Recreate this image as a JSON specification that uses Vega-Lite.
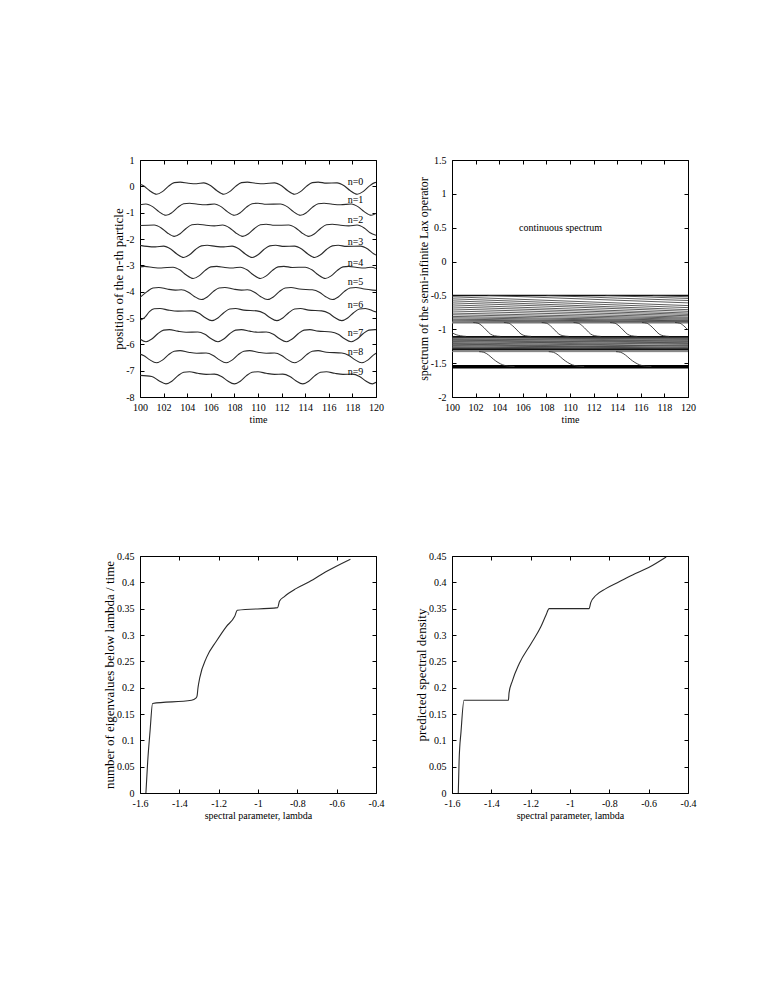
{
"$schema":"https://vega.github.io/schema/vega-lite/v6.json",
"background":"white",
"padding":{"left":103,"top":154,"right":10,"bottom":10},
"columns":2,
"spacing":{"row":159,"column":76},
"bounds":"flush",
"config":{
 "font":"Liberation Serif",
 "view":{"stroke":"#000","strokeWidth":1},
 "axis":{"domain":false,"grid":false,"ticks":true,"tickColor":"#000","tickSize":-4,"tickWidth":1,"labelFont":"Liberation Serif","labelFontSize":10,"labelColor":"#000","labelPadding":9,"labelFlush":false,"labelOverlap":false,"titleFont":"Liberation Serif","titleFontWeight":"normal","titleColor":"#000","titleFontSize":10,"titlePadding":2},
 "axisY":{"titleFontSize":13,"labelPadding":10,"titlePadding":0},
 "text":{"font":"Liberation Serif","fontSize":10,"color":"#000"}
},
"datasets":{
"pos":[
{"n":0,"t":100,"y":0.08},{"n":0,"t":100.3,"y":0.02},{"n":0,"t":100.8,"y":-0.16},{"n":0,"t":101.4,"y":-0.30},{"n":0,"t":101.9,"y":-0.20},{"n":0,"t":102.4,"y":0.00},{"n":0,"t":102.9,"y":0.14},{"n":0,"t":103.4,"y":0.16},{"n":0,"t":104.1,"y":0.12},{"n":0,"t":104.8,"y":0.10},{"n":0,"t":105.4,"y":0.13},{"n":0,"t":106.0,"y":0.02},{"n":0,"t":106.5,"y":-0.16},{"n":0,"t":107.1,"y":-0.30},{"n":0,"t":107.6,"y":-0.20},{"n":0,"t":108.1,"y":0.00},{"n":0,"t":108.6,"y":0.14},{"n":0,"t":109.1,"y":0.16},{"n":0,"t":109.8,"y":0.12},{"n":0,"t":110.5,"y":0.10},{"n":0,"t":111.4,"y":0.13},{"n":0,"t":112.0,"y":0.02},{"n":0,"t":112.5,"y":-0.16},{"n":0,"t":113.1,"y":-0.30},{"n":0,"t":113.6,"y":-0.20},{"n":0,"t":114.1,"y":0.00},{"n":0,"t":114.6,"y":0.14},{"n":0,"t":115.1,"y":0.16},{"n":0,"t":115.8,"y":0.12},{"n":0,"t":116.7,"y":0.13},{"n":0,"t":117.3,"y":0.02},{"n":0,"t":117.8,"y":-0.16},{"n":0,"t":118.4,"y":-0.30},{"n":0,"t":118.9,"y":-0.20},{"n":0,"t":119.4,"y":0.00},{"n":0,"t":119.9,"y":0.14},{"n":0,"t":120,"y":0.15},
{"n":1,"t":100,"y":-0.70},{"n":1,"t":100.5,"y":-0.67},{"n":1,"t":101.1,"y":-0.78},{"n":1,"t":101.6,"y":-0.96},{"n":1,"t":102.2,"y":-1.10},{"n":1,"t":102.7,"y":-1.00},{"n":1,"t":103.2,"y":-0.80},{"n":1,"t":103.7,"y":-0.66},{"n":1,"t":104.2,"y":-0.64},{"n":1,"t":104.9,"y":-0.68},{"n":1,"t":105.6,"y":-0.70},{"n":1,"t":106.3,"y":-0.67},{"n":1,"t":106.9,"y":-0.78},{"n":1,"t":107.4,"y":-0.96},{"n":1,"t":108.0,"y":-1.10},{"n":1,"t":108.5,"y":-1.00},{"n":1,"t":109.0,"y":-0.80},{"n":1,"t":109.5,"y":-0.66},{"n":1,"t":110.0,"y":-0.64},{"n":1,"t":110.7,"y":-0.68},{"n":1,"t":111.9,"y":-0.67},{"n":1,"t":112.5,"y":-0.78},{"n":1,"t":113.0,"y":-0.96},{"n":1,"t":113.6,"y":-1.10},{"n":1,"t":114.1,"y":-1.00},{"n":1,"t":114.6,"y":-0.80},{"n":1,"t":115.1,"y":-0.66},{"n":1,"t":115.6,"y":-0.64},{"n":1,"t":116.3,"y":-0.68},{"n":1,"t":117.0,"y":-0.70},{"n":1,"t":117.9,"y":-0.67},{"n":1,"t":118.5,"y":-0.78},{"n":1,"t":119.0,"y":-0.96},{"n":1,"t":119.6,"y":-1.10},{"n":1,"t":120,"y":-1.03},
{"n":2,"t":100,"y":-1.49},{"n":2,"t":101.2,"y":-1.47},{"n":2,"t":101.8,"y":-1.58},{"n":2,"t":102.3,"y":-1.76},{"n":2,"t":102.9,"y":-1.90},{"n":2,"t":103.4,"y":-1.80},{"n":2,"t":103.9,"y":-1.60},{"n":2,"t":104.4,"y":-1.46},{"n":2,"t":104.9,"y":-1.44},{"n":2,"t":105.6,"y":-1.48},{"n":2,"t":106.3,"y":-1.50},{"n":2,"t":107.0,"y":-1.47},{"n":2,"t":107.6,"y":-1.58},{"n":2,"t":108.1,"y":-1.76},{"n":2,"t":108.7,"y":-1.90},{"n":2,"t":109.2,"y":-1.80},{"n":2,"t":109.7,"y":-1.60},{"n":2,"t":110.2,"y":-1.46},{"n":2,"t":110.7,"y":-1.44},{"n":2,"t":111.4,"y":-1.48},{"n":2,"t":112.6,"y":-1.47},{"n":2,"t":113.2,"y":-1.58},{"n":2,"t":113.7,"y":-1.76},{"n":2,"t":114.3,"y":-1.90},{"n":2,"t":114.8,"y":-1.80},{"n":2,"t":115.3,"y":-1.60},{"n":2,"t":115.8,"y":-1.46},{"n":2,"t":116.3,"y":-1.44},{"n":2,"t":117.0,"y":-1.48},{"n":2,"t":117.7,"y":-1.50},{"n":2,"t":118.4,"y":-1.47},{"n":2,"t":119.0,"y":-1.58},{"n":2,"t":119.5,"y":-1.76},{"n":2,"t":120,"y":-1.86},
{"n":3,"t":100,"y":-2.24},{"n":3,"t":100.6,"y":-2.28},{"n":3,"t":101.3,"y":-2.30},{"n":3,"t":102.0,"y":-2.27},{"n":3,"t":102.6,"y":-2.38},{"n":3,"t":103.1,"y":-2.56},{"n":3,"t":103.7,"y":-2.70},{"n":3,"t":104.2,"y":-2.60},{"n":3,"t":104.7,"y":-2.40},{"n":3,"t":105.2,"y":-2.26},{"n":3,"t":105.7,"y":-2.24},{"n":3,"t":106.4,"y":-2.28},{"n":3,"t":107.1,"y":-2.30},{"n":3,"t":107.8,"y":-2.27},{"n":3,"t":108.4,"y":-2.38},{"n":3,"t":108.9,"y":-2.56},{"n":3,"t":109.5,"y":-2.70},{"n":3,"t":110.0,"y":-2.60},{"n":3,"t":110.5,"y":-2.40},{"n":3,"t":111.0,"y":-2.26},{"n":3,"t":111.5,"y":-2.24},{"n":3,"t":112.2,"y":-2.28},{"n":3,"t":113.1,"y":-2.27},{"n":3,"t":113.7,"y":-2.38},{"n":3,"t":114.2,"y":-2.56},{"n":3,"t":114.8,"y":-2.70},{"n":3,"t":115.3,"y":-2.60},{"n":3,"t":115.8,"y":-2.40},{"n":3,"t":116.3,"y":-2.26},{"n":3,"t":116.8,"y":-2.24},{"n":3,"t":117.5,"y":-2.28},{"n":3,"t":118.7,"y":-2.27},{"n":3,"t":119.3,"y":-2.38},{"n":3,"t":119.8,"y":-2.56},{"n":3,"t":120,"y":-2.61},
{"n":4,"t":100,"y":-3.06},{"n":4,"t":100.4,"y":-3.04},{"n":4,"t":101.1,"y":-3.08},{"n":4,"t":101.8,"y":-3.10},{"n":4,"t":102.8,"y":-3.07},{"n":4,"t":103.4,"y":-3.18},{"n":4,"t":103.9,"y":-3.36},{"n":4,"t":104.5,"y":-3.50},{"n":4,"t":105.0,"y":-3.40},{"n":4,"t":105.5,"y":-3.20},{"n":4,"t":106.0,"y":-3.06},{"n":4,"t":106.5,"y":-3.04},{"n":4,"t":107.2,"y":-3.08},{"n":4,"t":107.9,"y":-3.10},{"n":4,"t":108.5,"y":-3.07},{"n":4,"t":109.1,"y":-3.18},{"n":4,"t":109.6,"y":-3.36},{"n":4,"t":110.2,"y":-3.50},{"n":4,"t":110.7,"y":-3.40},{"n":4,"t":111.2,"y":-3.20},{"n":4,"t":111.7,"y":-3.06},{"n":4,"t":112.2,"y":-3.04},{"n":4,"t":112.9,"y":-3.08},{"n":4,"t":114.0,"y":-3.07},{"n":4,"t":114.6,"y":-3.18},{"n":4,"t":115.1,"y":-3.36},{"n":4,"t":115.7,"y":-3.50},{"n":4,"t":116.2,"y":-3.40},{"n":4,"t":116.7,"y":-3.20},{"n":4,"t":117.2,"y":-3.06},{"n":4,"t":117.7,"y":-3.04},{"n":4,"t":118.4,"y":-3.08},{"n":4,"t":119.1,"y":-3.10},{"n":4,"t":119.6,"y":-3.07},{"n":4,"t":120,"y":-3.12},
{"n":5,"t":100,"y":-4.22},{"n":5,"t":100.6,"y":-4.00},{"n":5,"t":101.1,"y":-3.86},{"n":5,"t":101.6,"y":-3.84},{"n":5,"t":102.3,"y":-3.90},{"n":5,"t":103.0,"y":-3.94},{"n":5,"t":103.5,"y":-3.93},{"n":5,"t":104.1,"y":-4.02},{"n":5,"t":104.6,"y":-4.18},{"n":5,"t":105.2,"y":-4.30},{"n":5,"t":105.7,"y":-4.20},{"n":5,"t":106.2,"y":-4.00},{"n":5,"t":106.7,"y":-3.86},{"n":5,"t":107.2,"y":-3.84},{"n":5,"t":107.9,"y":-3.90},{"n":5,"t":108.6,"y":-3.94},{"n":5,"t":109.1,"y":-3.93},{"n":5,"t":109.7,"y":-4.02},{"n":5,"t":110.2,"y":-4.18},{"n":5,"t":110.8,"y":-4.30},{"n":5,"t":111.3,"y":-4.20},{"n":5,"t":111.8,"y":-4.00},{"n":5,"t":112.3,"y":-3.86},{"n":5,"t":112.8,"y":-3.84},{"n":5,"t":113.5,"y":-3.90},{"n":5,"t":114.6,"y":-3.93},{"n":5,"t":115.2,"y":-4.02},{"n":5,"t":115.7,"y":-4.18},{"n":5,"t":116.3,"y":-4.30},{"n":5,"t":116.8,"y":-4.20},{"n":5,"t":117.3,"y":-4.00},{"n":5,"t":117.8,"y":-3.86},{"n":5,"t":118.3,"y":-3.84},{"n":5,"t":119.0,"y":-3.90},{"n":5,"t":119.7,"y":-3.94},{"n":5,"t":120,"y":-3.95},
{"n":6,"t":100,"y":-5.10},{"n":6,"t":100.4,"y":-4.98},{"n":6,"t":100.8,"y":-4.76},{"n":6,"t":101.2,"y":-4.65},{"n":6,"t":101.7,"y":-4.64},{"n":6,"t":102.4,"y":-4.70},{"n":6,"t":103.2,"y":-4.74},{"n":6,"t":104.4,"y":-4.73},{"n":6,"t":105.0,"y":-4.82},{"n":6,"t":105.5,"y":-4.98},{"n":6,"t":106.1,"y":-5.10},{"n":6,"t":106.6,"y":-5.00},{"n":6,"t":107.1,"y":-4.80},{"n":6,"t":107.6,"y":-4.66},{"n":6,"t":108.1,"y":-4.64},{"n":6,"t":108.8,"y":-4.70},{"n":6,"t":109.9,"y":-4.73},{"n":6,"t":110.5,"y":-4.82},{"n":6,"t":111.0,"y":-4.98},{"n":6,"t":111.6,"y":-5.10},{"n":6,"t":112.1,"y":-5.00},{"n":6,"t":112.6,"y":-4.80},{"n":6,"t":113.1,"y":-4.66},{"n":6,"t":113.6,"y":-4.64},{"n":6,"t":114.3,"y":-4.70},{"n":6,"t":115.4,"y":-4.73},{"n":6,"t":116.0,"y":-4.82},{"n":6,"t":116.5,"y":-4.98},{"n":6,"t":117.1,"y":-5.10},{"n":6,"t":117.6,"y":-5.00},{"n":6,"t":118.1,"y":-4.80},{"n":6,"t":118.6,"y":-4.66},{"n":6,"t":119.1,"y":-4.64},{"n":6,"t":119.8,"y":-4.74},{"n":6,"t":120,"y":-4.77},
{"n":7,"t":100,"y":-5.80},{"n":7,"t":100.5,"y":-5.90},{"n":7,"t":101.0,"y":-5.80},{"n":7,"t":101.5,"y":-5.60},{"n":7,"t":102.0,"y":-5.46},{"n":7,"t":102.5,"y":-5.44},{"n":7,"t":103.2,"y":-5.50},{"n":7,"t":103.9,"y":-5.54},{"n":7,"t":104.9,"y":-5.53},{"n":7,"t":105.5,"y":-5.62},{"n":7,"t":106.0,"y":-5.78},{"n":7,"t":106.6,"y":-5.90},{"n":7,"t":107.1,"y":-5.80},{"n":7,"t":107.6,"y":-5.60},{"n":7,"t":108.1,"y":-5.46},{"n":7,"t":108.6,"y":-5.44},{"n":7,"t":109.3,"y":-5.50},{"n":7,"t":110.0,"y":-5.54},{"n":7,"t":110.7,"y":-5.53},{"n":7,"t":111.3,"y":-5.62},{"n":7,"t":111.8,"y":-5.78},{"n":7,"t":112.4,"y":-5.90},{"n":7,"t":112.9,"y":-5.80},{"n":7,"t":113.4,"y":-5.60},{"n":7,"t":113.9,"y":-5.46},{"n":7,"t":114.4,"y":-5.44},{"n":7,"t":115.1,"y":-5.50},{"n":7,"t":116.2,"y":-5.53},{"n":7,"t":116.8,"y":-5.62},{"n":7,"t":117.3,"y":-5.78},{"n":7,"t":117.9,"y":-5.90},{"n":7,"t":118.4,"y":-5.80},{"n":7,"t":118.9,"y":-5.60},{"n":7,"t":119.4,"y":-5.46},{"n":7,"t":119.9,"y":-5.44},{"n":7,"t":120,"y":-5.44},
{"n":8,"t":100,"y":-6.37},{"n":8,"t":100.3,"y":-6.42},{"n":8,"t":100.8,"y":-6.58},{"n":8,"t":101.4,"y":-6.70},{"n":8,"t":101.9,"y":-6.60},{"n":8,"t":102.4,"y":-6.40},{"n":8,"t":102.9,"y":-6.26},{"n":8,"t":103.4,"y":-6.24},{"n":8,"t":104.1,"y":-6.30},{"n":8,"t":104.8,"y":-6.34},{"n":8,"t":105.6,"y":-6.33},{"n":8,"t":106.2,"y":-6.42},{"n":8,"t":106.7,"y":-6.58},{"n":8,"t":107.3,"y":-6.70},{"n":8,"t":107.8,"y":-6.60},{"n":8,"t":108.3,"y":-6.40},{"n":8,"t":108.8,"y":-6.26},{"n":8,"t":109.3,"y":-6.24},{"n":8,"t":110.0,"y":-6.30},{"n":8,"t":110.7,"y":-6.34},{"n":8,"t":111.4,"y":-6.33},{"n":8,"t":112.0,"y":-6.42},{"n":8,"t":112.5,"y":-6.58},{"n":8,"t":113.1,"y":-6.70},{"n":8,"t":113.6,"y":-6.60},{"n":8,"t":114.1,"y":-6.40},{"n":8,"t":114.6,"y":-6.26},{"n":8,"t":115.1,"y":-6.24},{"n":8,"t":115.8,"y":-6.30},{"n":8,"t":117.1,"y":-6.33},{"n":8,"t":117.7,"y":-6.42},{"n":8,"t":118.2,"y":-6.58},{"n":8,"t":118.8,"y":-6.70},{"n":8,"t":119.3,"y":-6.60},{"n":8,"t":119.8,"y":-6.40},{"n":8,"t":120,"y":-6.34},
{"n":9,"t":100,"y":-7.18},{"n":9,"t":101.0,"y":-7.22},{"n":9,"t":101.6,"y":-7.38},{"n":9,"t":102.2,"y":-7.50},{"n":9,"t":102.7,"y":-7.40},{"n":9,"t":103.2,"y":-7.20},{"n":9,"t":103.7,"y":-7.06},{"n":9,"t":104.2,"y":-7.04},{"n":9,"t":104.9,"y":-7.10},{"n":9,"t":105.6,"y":-7.14},{"n":9,"t":106.3,"y":-7.13},{"n":9,"t":106.9,"y":-7.22},{"n":9,"t":107.4,"y":-7.38},{"n":9,"t":108.0,"y":-7.50},{"n":9,"t":108.5,"y":-7.40},{"n":9,"t":109.0,"y":-7.20},{"n":9,"t":109.5,"y":-7.06},{"n":9,"t":110.0,"y":-7.04},{"n":9,"t":110.7,"y":-7.10},{"n":9,"t":111.4,"y":-7.14},{"n":9,"t":112.1,"y":-7.13},{"n":9,"t":112.7,"y":-7.22},{"n":9,"t":113.2,"y":-7.38},{"n":9,"t":113.8,"y":-7.50},{"n":9,"t":114.3,"y":-7.40},{"n":9,"t":114.8,"y":-7.20},{"n":9,"t":115.3,"y":-7.06},{"n":9,"t":115.8,"y":-7.04},{"n":9,"t":116.5,"y":-7.10},{"n":9,"t":117.2,"y":-7.14},{"n":9,"t":118.0,"y":-7.13},{"n":9,"t":118.6,"y":-7.22},{"n":9,"t":119.1,"y":-7.38},{"n":9,"t":119.7,"y":-7.50},{"n":9,"t":120,"y":-7.44}
],
"poslabels":[
{"label":"n=0","t":117.6,"y":0.17},{"label":"n=1","t":117.6,"y":-0.52},{"label":"n=2","t":117.6,"y":-1.28},{"label":"n=3","t":117.6,"y":-2.11},{"label":"n=4","t":117.6,"y":-2.91},{"label":"n=5","t":117.6,"y":-3.63},{"label":"n=6","t":117.6,"y":-4.50},{"label":"n=7","t":117.6,"y":-5.57},{"label":"n=8","t":117.6,"y":-6.29},{"label":"n=9","t":117.6,"y":-7.05}
],
"spec":[
{"id":"top","kind":"edge","t":100,"y":-0.5},{"id":"top","kind":"edge","t":120,"y":-0.5},
{"id":"F1","kind":"fan","t":100,"y":-0.52},{"id":"F1","kind":"fan","t":110,"y":-0.585},{"id":"F1","kind":"fan","t":120,"y":-0.65},
{"id":"F2","kind":"fan","t":100,"y":-0.55},{"id":"F2","kind":"fan","t":110,"y":-0.615},{"id":"F2","kind":"fan","t":120,"y":-0.68},
{"id":"F3","kind":"fan","t":100,"y":-0.58},{"id":"F3","kind":"fan","t":110,"y":-0.645},{"id":"F3","kind":"fan","t":120,"y":-0.71},
{"id":"F4","kind":"fan","t":100,"y":-0.61},{"id":"F4","kind":"fan","t":110,"y":-0.67},{"id":"F4","kind":"fan","t":120,"y":-0.735},
{"id":"F5","kind":"fan","t":100,"y":-0.64},{"id":"F5","kind":"fan","t":110,"y":-0.70},{"id":"F5","kind":"fan","t":120,"y":-0.76},
{"id":"F6","kind":"fan","t":100,"y":-0.67},{"id":"F6","kind":"fan","t":110,"y":-0.725},{"id":"F6","kind":"fan","t":120,"y":-0.78},
{"id":"F7","kind":"fan","t":100,"y":-0.70},{"id":"F7","kind":"fan","t":110,"y":-0.75},{"id":"F7","kind":"fan","t":120,"y":-0.80},
{"id":"F8","kind":"fan","t":100,"y":-0.73},{"id":"F8","kind":"fan","t":110,"y":-0.775},{"id":"F8","kind":"fan","t":120,"y":-0.82},
{"id":"F9","kind":"fan","t":100,"y":-0.76},{"id":"F9","kind":"fan","t":110,"y":-0.80},{"id":"F9","kind":"fan","t":120,"y":-0.835},
{"id":"F10","kind":"fan","t":100,"y":-0.785},{"id":"F10","kind":"fan","t":110,"y":-0.82},{"id":"F10","kind":"fan","t":120,"y":-0.85},
{"id":"F11","kind":"fan","t":100,"y":-0.81},{"id":"F11","kind":"fan","t":110,"y":-0.84},{"id":"F11","kind":"fan","t":120,"y":-0.865},
{"id":"F12","kind":"fan","t":100,"y":-0.83},{"id":"F12","kind":"fan","t":110,"y":-0.855},{"id":"F12","kind":"fan","t":120,"y":-0.875},
{"id":"F13","kind":"fan","t":100,"y":-0.85},{"id":"F13","kind":"fan","t":110,"y":-0.87},{"id":"F13","kind":"fan","t":120,"y":-0.885},
{"id":"F14","kind":"fan","t":100,"y":-0.865},{"id":"F14","kind":"fan","t":110,"y":-0.88},{"id":"F14","kind":"fan","t":120,"y":-0.89},
{"id":"F15","kind":"fan","t":100,"y":-0.88},{"id":"F15","kind":"fan","t":110,"y":-0.89},{"id":"F15","kind":"fan","t":120,"y":-0.895},
{"id":"N1","kind":"fan","t":103,"y":-0.5},{"id":"N1","kind":"fan","t":110,"y":-0.545},{"id":"N1","kind":"fan","t":120,"y":-0.61},
{"id":"N2","kind":"fan","t":108,"y":-0.5},{"id":"N2","kind":"fan","t":114,"y":-0.54},{"id":"N2","kind":"fan","t":120,"y":-0.575},
{"id":"N3","kind":"fan","t":113,"y":-0.5},{"id":"N3","kind":"fan","t":120,"y":-0.545},
{"id":"N4","kind":"fan","t":117,"y":-0.5},{"id":"N4","kind":"fan","t":120,"y":-0.52},
{"id":"G1","kind":"gray","t":100,"y":-0.9},{"id":"G1","kind":"gray","t":120,"y":-0.9},
{"id":"B1","kind":"band","t":100,"y":-1.12},{"id":"B1","kind":"band","t":120,"y":-1.15},
{"id":"B2","kind":"band","t":100,"y":-1.13},{"id":"B2","kind":"band","t":120,"y":-1.12},
{"id":"B3","kind":"band","t":100,"y":-1.14},{"id":"B3","kind":"band","t":120,"y":-1.18},
{"id":"B4","kind":"band","t":100,"y":-1.15},{"id":"B4","kind":"band","t":120,"y":-1.13},
{"id":"B5","kind":"band","t":100,"y":-1.16},{"id":"B5","kind":"band","t":120,"y":-1.20},
{"id":"B6","kind":"band","t":100,"y":-1.17},{"id":"B6","kind":"band","t":120,"y":-1.14},
{"id":"B7","kind":"band","t":100,"y":-1.18},{"id":"B7","kind":"band","t":120,"y":-1.22},
{"id":"B8","kind":"band","t":100,"y":-1.19},{"id":"B8","kind":"band","t":120,"y":-1.16},
{"id":"B9","kind":"band","t":100,"y":-1.20},{"id":"B9","kind":"band","t":120,"y":-1.25},
{"id":"B10","kind":"band","t":100,"y":-1.21},{"id":"B10","kind":"band","t":120,"y":-1.17},
{"id":"B11","kind":"band","t":100,"y":-1.22},{"id":"B11","kind":"band","t":120,"y":-1.27},
{"id":"B12","kind":"band","t":100,"y":-1.23},{"id":"B12","kind":"band","t":120,"y":-1.19},
{"id":"B13","kind":"band","t":100,"y":-1.24},{"id":"B13","kind":"band","t":120,"y":-1.28},
{"id":"B14","kind":"band","t":100,"y":-1.25},{"id":"B14","kind":"band","t":120,"y":-1.21},
{"id":"B15","kind":"band","t":100,"y":-1.26},{"id":"B15","kind":"band","t":120,"y":-1.29},
{"id":"B16","kind":"band","t":100,"y":-1.27},{"id":"B16","kind":"band","t":120,"y":-1.23},
{"id":"B17","kind":"band","t":100,"y":-1.28},{"id":"B17","kind":"band","t":120,"y":-1.24},
{"id":"B18","kind":"band","t":100,"y":-1.29},{"id":"B18","kind":"band","t":120,"y":-1.26},
{"id":"B19","kind":"band","t":100,"y":-1.115},{"id":"B19","kind":"band","t":120,"y":-1.13},
{"id":"B20","kind":"band","t":100,"y":-1.285},{"id":"B20","kind":"band","t":120,"y":-1.29},
{"id":"E1","kind":"edge","t":100,"y":-1.11},{"id":"E1","kind":"edge","t":120,"y":-1.11},
{"id":"E2","kind":"thick","t":100,"y":-1.30},{"id":"E2","kind":"thick","t":120,"y":-1.30},
{"id":"E3","kind":"thin","t":100,"y":-1.33},{"id":"E3","kind":"thin","t":120,"y":-1.33},
{"id":"E4","kind":"heavy","t":100,"y":-1.555},{"id":"E4","kind":"heavy","t":120,"y":-1.555},
{"id":"U0","kind":"transition","t":100,"y":-1.05},{"id":"U0","kind":"transition","t":100.35,"y":-1.08},{"id":"U0","kind":"transition","t":100.7,"y":-1.095},{"id":"U0","kind":"transition","t":101.2,"y":-1.105},
{"id":"U1","kind":"transition","t":101.8,"y":-0.90},{"id":"U1","kind":"transition","t":102.2,"y":-0.91},{"id":"U1","kind":"transition","t":102.55,"y":-0.95},{"id":"U1","kind":"transition","t":102.9,"y":-1.01},{"id":"U1","kind":"transition","t":103.25,"y":-1.07},{"id":"U1","kind":"transition","t":103.6,"y":-1.095},{"id":"U1","kind":"transition","t":104.1,"y":-1.105},
{"id":"U2","kind":"transition","t":104.4,"y":-0.90},{"id":"U2","kind":"transition","t":104.8,"y":-0.91},{"id":"U2","kind":"transition","t":105.15,"y":-0.95},{"id":"U2","kind":"transition","t":105.5,"y":-1.01},{"id":"U2","kind":"transition","t":105.85,"y":-1.07},{"id":"U2","kind":"transition","t":106.2,"y":-1.095},{"id":"U2","kind":"transition","t":106.7,"y":-1.105},
{"id":"U3","kind":"transition","t":107.6,"y":-0.90},{"id":"U3","kind":"transition","t":108.0,"y":-0.91},{"id":"U3","kind":"transition","t":108.35,"y":-0.95},{"id":"U3","kind":"transition","t":108.7,"y":-1.01},{"id":"U3","kind":"transition","t":109.05,"y":-1.07},{"id":"U3","kind":"transition","t":109.4,"y":-1.095},{"id":"U3","kind":"transition","t":109.9,"y":-1.105},
{"id":"U4","kind":"transition","t":110.3,"y":-0.90},{"id":"U4","kind":"transition","t":110.7,"y":-0.91},{"id":"U4","kind":"transition","t":111.05,"y":-0.95},{"id":"U4","kind":"transition","t":111.4,"y":-1.01},{"id":"U4","kind":"transition","t":111.75,"y":-1.07},{"id":"U4","kind":"transition","t":112.1,"y":-1.095},{"id":"U4","kind":"transition","t":112.6,"y":-1.105},
{"id":"U5","kind":"transition","t":113.4,"y":-0.90},{"id":"U5","kind":"transition","t":113.8,"y":-0.91},{"id":"U5","kind":"transition","t":114.15,"y":-0.95},{"id":"U5","kind":"transition","t":114.5,"y":-1.01},{"id":"U5","kind":"transition","t":114.85,"y":-1.07},{"id":"U5","kind":"transition","t":115.2,"y":-1.095},{"id":"U5","kind":"transition","t":115.7,"y":-1.105},
{"id":"U6","kind":"transition","t":116.1,"y":-0.90},{"id":"U6","kind":"transition","t":116.5,"y":-0.91},{"id":"U6","kind":"transition","t":116.85,"y":-0.95},{"id":"U6","kind":"transition","t":117.2,"y":-1.01},{"id":"U6","kind":"transition","t":117.55,"y":-1.07},{"id":"U6","kind":"transition","t":117.9,"y":-1.095},{"id":"U6","kind":"transition","t":118.4,"y":-1.105},
{"id":"U7","kind":"transition","t":118.9,"y":-0.90},{"id":"U7","kind":"transition","t":119.3,"y":-0.91},{"id":"U7","kind":"transition","t":119.65,"y":-0.95},{"id":"U7","kind":"transition","t":120,"y":-1.01},
{"id":"D1","kind":"transition","t":102.3,"y":-1.33},{"id":"D1","kind":"transition","t":102.7,"y":-1.34},{"id":"D1","kind":"transition","t":103.1,"y":-1.38},{"id":"D1","kind":"transition","t":103.5,"y":-1.44},{"id":"D1","kind":"transition","t":103.9,"y":-1.49},{"id":"D1","kind":"transition","t":104.3,"y":-1.525},{"id":"D1","kind":"transition","t":104.8,"y":-1.545},{"id":"D1","kind":"transition","t":105.3,"y":-1.55},
{"id":"D2","kind":"transition","t":108.2,"y":-1.33},{"id":"D2","kind":"transition","t":108.6,"y":-1.34},{"id":"D2","kind":"transition","t":109.0,"y":-1.38},{"id":"D2","kind":"transition","t":109.4,"y":-1.44},{"id":"D2","kind":"transition","t":109.8,"y":-1.49},{"id":"D2","kind":"transition","t":110.2,"y":-1.525},{"id":"D2","kind":"transition","t":110.7,"y":-1.545},{"id":"D2","kind":"transition","t":111.2,"y":-1.55},
{"id":"D3","kind":"transition","t":113.9,"y":-1.33},{"id":"D3","kind":"transition","t":114.3,"y":-1.34},{"id":"D3","kind":"transition","t":114.7,"y":-1.38},{"id":"D3","kind":"transition","t":115.1,"y":-1.44},{"id":"D3","kind":"transition","t":115.5,"y":-1.49},{"id":"D3","kind":"transition","t":115.9,"y":-1.525},{"id":"D3","kind":"transition","t":116.4,"y":-1.545},{"id":"D3","kind":"transition","t":116.9,"y":-1.55}
],
"speclabel":[{"label":"continuous spectrum","t":109.2,"y":0.5}],
"cum":[
{"lam":-1.570,"v":0},{"lam":-1.561,"v":0.059},{"lam":-1.549,"v":0.117},{"lam":-1.536,"v":0.170},{"lam":-1.338,"v":0.176},{"lam":-1.316,"v":0.180},{"lam":-1.310,"v":0.184},{"lam":-1.305,"v":0.200},{"lam":-1.296,"v":0.219},{"lam":-1.262,"v":0.257},{"lam":-1.212,"v":0.288},{"lam":-1.161,"v":0.316},{"lam":-1.119,"v":0.335},{"lam":-1.105,"v":0.347},{"lam":-0.900,"v":0.352},{"lam":-0.891,"v":0.364},{"lam":-0.866,"v":0.373},{"lam":-0.807,"v":0.388},{"lam":-0.739,"v":0.401},{"lam":-0.655,"v":0.420},{"lam":-0.530,"v":0.444}
],
"pred":[
{"lam":-1.568,"v":0},{"lam":-1.564,"v":0.060},{"lam":-1.554,"v":0.117},{"lam":-1.539,"v":0.176},{"lam":-1.313,"v":0.176},{"lam":-1.310,"v":0.190},{"lam":-1.293,"v":0.213},{"lam":-1.259,"v":0.245},{"lam":-1.199,"v":0.283},{"lam":-1.149,"v":0.315},{"lam":-1.123,"v":0.337},{"lam":-1.106,"v":0.350},{"lam":-0.903,"v":0.350},{"lam":-0.894,"v":0.362},{"lam":-0.869,"v":0.375},{"lam":-0.818,"v":0.388},{"lam":-0.750,"v":0.401},{"lam":-0.682,"v":0.414},{"lam":-0.600,"v":0.428},{"lam":-0.511,"v":0.448}
]
},
"concat":[
{
 "width":236,"height":237,
 "layer":[
  {"data":{"name":"pos"},"mark":{"type":"line","interpolate":"monotone","stroke":"#2a2a2a","strokeWidth":1.1,"clip":true},
   "encoding":{
    "x":{"field":"t","type":"quantitative","scale":{"domain":[100,120],"nice":false,"zero":false},"axis":{"orient":"bottom","title":"time","values":[100,102,104,106,108,110,112,114,116,118,120],"labelExpr":"''+datum.value"}},
    "y":{"field":"y","type":"quantitative","scale":{"domain":[-8,1],"nice":false,"zero":false},"axis":{"orient":"left","title":"position of the n-th particle","values":[-8,-7,-6,-5,-4,-3,-2,-1,0,1],"labelExpr":"''+datum.value"}},
    "detail":{"field":"n","type":"nominal"}}},
  {"data":{"name":"poslabels"},"mark":{"type":"text","align":"left","baseline":"middle","fontSize":10},
   "encoding":{
    "x":{"field":"t","type":"quantitative","scale":{"domain":[100,120],"nice":false,"zero":false},"axis":null},
    "y":{"field":"y","type":"quantitative","scale":{"domain":[-8,1],"nice":false,"zero":false},"axis":null},
    "text":{"field":"label"}}},
  {"data":{"name":"poslabels"},"mark":{"type":"point","opacity":0},
   "encoding":{
    "x":{"field":"t","type":"quantitative","scale":{"domain":[100,120],"nice":false,"zero":false},"axis":{"orient":"top","labels":false,"title":null,"values":[100,102,104,106,108,110,112,114,116,118,120]}},
    "y":{"field":"y","type":"quantitative","scale":{"domain":[-8,1],"nice":false,"zero":false},"axis":{"orient":"right","labels":false,"title":null,"values":[-8,-7,-6,-5,-4,-3,-2,-1,0,1]}}}}
 ],
 "resolve":{"axis":{"x":"independent","y":"independent"}}
},
{
 "width":236,"height":237,
 "layer":[
  {"data":{"name":"spec"},"mark":{"type":"line","interpolate":"monotone","clip":true},
   "encoding":{
    "x":{"field":"t","type":"quantitative","scale":{"domain":[100,120],"nice":false,"zero":false},"axis":{"orient":"bottom","title":"time","values":[100,102,104,106,108,110,112,114,116,118,120],"labelExpr":"''+datum.value"}},
    "y":{"field":"y","type":"quantitative","scale":{"domain":[-2,1.5],"nice":false,"zero":false},"axis":{"orient":"left","title":"spectrum of the semi-infinite Lax operator","titleFontSize":12,"values":[-2,-1.5,-1,-0.5,0,0.5,1,1.5],"labelExpr":"''+datum.value"}},
    "detail":{"field":"id","type":"nominal"},
    "color":{"field":"kind","type":"nominal","scale":{"domain":["edge","fan","gray","band","thick","thin","heavy","transition"],"range":["#111","#333","#777","#4a4a4a","#111","#777","#000","#333"]},"legend":null},
    "strokeWidth":{"field":"kind","type":"ordinal","scale":{"type":"ordinal","domain":["edge","fan","gray","band","thick","thin","heavy","transition"],"range":[1.4,0.8,2.2,0.8,2,1,3.5,0.9]},"legend":null}}},
  {"data":{"name":"speclabel"},"mark":{"type":"text","align":"center","baseline":"middle","fontSize":10},
   "encoding":{
    "x":{"field":"t","type":"quantitative","scale":{"domain":[100,120],"nice":false,"zero":false},"axis":null},
    "y":{"field":"y","type":"quantitative","scale":{"domain":[-2,1.5],"nice":false,"zero":false},"axis":null},
    "text":{"field":"label"}}},
  {"data":{"name":"speclabel"},"mark":{"type":"point","opacity":0},
   "encoding":{
    "x":{"field":"t","type":"quantitative","scale":{"domain":[100,120],"nice":false,"zero":false},"axis":{"orient":"top","labels":false,"title":null,"values":[100,102,104,106,108,110,112,114,116,118,120]}},
    "y":{"field":"y","type":"quantitative","scale":{"domain":[-2,1.5],"nice":false,"zero":false},"axis":{"orient":"right","labels":false,"title":null,"values":[-2,-1.5,-1,-0.5,0,0.5,1,1.5]}}}}
 ],
 "resolve":{"axis":{"x":"independent","y":"independent"}}
},
{
 "width":236,"height":237,
 "layer":[
  {"data":{"name":"cum"},"mark":{"type":"line","interpolate":"monotone","stroke":"#2a2a2a","strokeWidth":1.1,"clip":true},
   "encoding":{
    "x":{"field":"lam","type":"quantitative","scale":{"domain":[-1.6,-0.4],"nice":false,"zero":false},"axis":{"orient":"bottom","title":"spectral parameter, lambda","values":[-1.6,-1.4,-1.2,-1,-0.8,-0.6,-0.4],"labelExpr":"''+datum.value"}},
    "y":{"field":"v","type":"quantitative","scale":{"domain":[0,0.45],"nice":false,"zero":false},"axis":{"orient":"left","title":"number of eigenvalues below lambda / time","values":[0,0.05,0.1,0.15,0.2,0.25,0.3,0.35,0.4,0.45],"labelExpr":"''+datum.value"}}}},
  {"data":{"name":"cum"},"mark":{"type":"point","opacity":0},
   "encoding":{
    "x":{"field":"lam","type":"quantitative","scale":{"domain":[-1.6,-0.4],"nice":false,"zero":false},"axis":{"orient":"top","labels":false,"title":null,"values":[-1.6,-1.4,-1.2,-1,-0.8,-0.6,-0.4]}},
    "y":{"field":"v","type":"quantitative","scale":{"domain":[0,0.45],"nice":false,"zero":false},"axis":{"orient":"right","labels":false,"title":null,"values":[0,0.05,0.1,0.15,0.2,0.25,0.3,0.35,0.4,0.45]}}}}
 ],
 "resolve":{"axis":{"x":"independent","y":"independent"}}
},
{
 "width":236,"height":237,
 "layer":[
  {"data":{"name":"pred"},"mark":{"type":"line","interpolate":"monotone","stroke":"#2a2a2a","strokeWidth":1.1,"clip":true},
   "encoding":{
    "x":{"field":"lam","type":"quantitative","scale":{"domain":[-1.6,-0.4],"nice":false,"zero":false},"axis":{"orient":"bottom","title":"spectral parameter, lambda","values":[-1.6,-1.4,-1.2,-1,-0.8,-0.6,-0.4],"labelExpr":"''+datum.value"}},
    "y":{"field":"v","type":"quantitative","scale":{"domain":[0,0.45],"nice":false,"zero":false},"axis":{"orient":"left","title":"predicted spectral density","values":[0,0.05,0.1,0.15,0.2,0.25,0.3,0.35,0.4,0.45],"labelExpr":"''+datum.value"}}}},
  {"data":{"name":"pred"},"mark":{"type":"point","opacity":0},
   "encoding":{
    "x":{"field":"lam","type":"quantitative","scale":{"domain":[-1.6,-0.4],"nice":false,"zero":false},"axis":{"orient":"top","labels":false,"title":null,"values":[-1.6,-1.4,-1.2,-1,-0.8,-0.6,-0.4]}},
    "y":{"field":"v","type":"quantitative","scale":{"domain":[0,0.45],"nice":false,"zero":false},"axis":{"orient":"right","labels":false,"title":null,"values":[0,0.05,0.1,0.15,0.2,0.25,0.3,0.35,0.4,0.45]}}}}
 ],
 "resolve":{"axis":{"x":"independent","y":"independent"}}
}
]
}
